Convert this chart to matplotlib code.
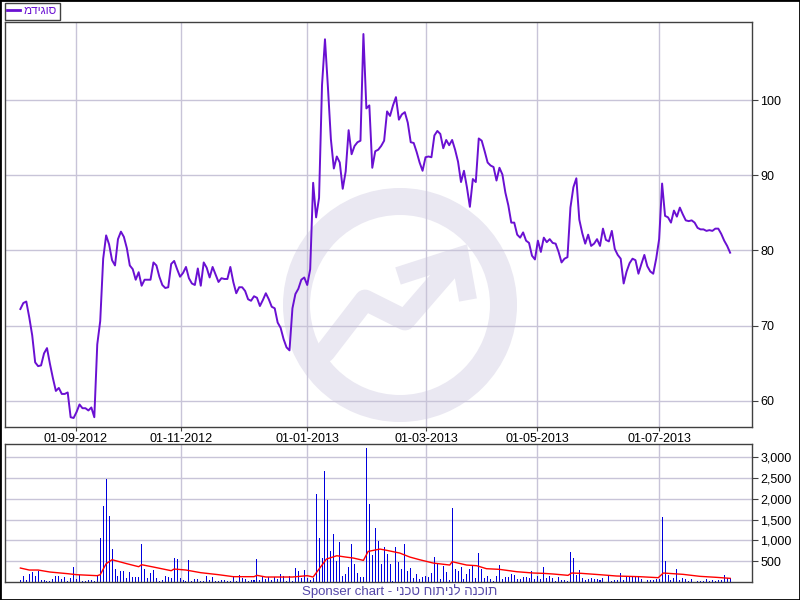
import numpy as np
import matplotlib
matplotlib.use("Agg")
import matplotlib.pyplot as plt
from matplotlib.patches import Rectangle, Wedge
from matplotlib.lines import Line2D
from matplotlib.ticker import FuncFormatter

plt.rcParams['font.family'] = ['Liberation Sans', 'DejaVu Sans']

# daily close, one value per trading day (Aug 2012 - Jul 2013)
price = [72.2, 73.0, 73.2, 71.1, 68.7, 65.1, 64.6, 64.7, 66.3, 67.0, 64.9, 63.0, 61.3, 61.7, 60.9, 60.9, 61.1,
         57.8, 57.7, 58.5, 59.5, 59.0, 59.0, 58.7, 59.1, 57.8, 67.5, 70.6, 78.9, 82.0, 80.8, 78.7, 78.0, 81.5,
         82.5, 81.8, 80.3, 78.0,
         77.5, 76.1, 77.1, 75.3, 76.1, 76.1, 76.1, 78.4, 78.0, 76.5, 75.4, 75.0, 75.1, 78.2, 78.6, 77.5, 76.5,
         77.0, 77.8, 76.3, 75.6, 75.4, 77.6, 75.3, 78.4, 77.7, 76.4, 77.8, 76.8, 75.8, 76.3, 76.2, 76.2, 77.8,
         75.8, 74.3, 75.1, 75.1, 74.6, 73.5, 73.3,
         73.9, 73.7, 72.6, 73.4, 74.3, 73.5, 72.5, 72.3, 70.4, 69.7, 68.2, 67.1, 66.7, 72.3, 74.2, 74.9, 76.1,
         76.4, 75.4, 77.5, 89.0, 84.4, 87.0, 102.0, 108.1, 101.7, 94.8, 90.9, 92.5, 91.7, 88.2, 90.5, 96.0,
         92.8, 93.9, 94.4, 94.6, 108.8, 98.9, 99.3, 91.0,
         93.2, 93.4, 93.9, 94.6, 98.5, 97.9, 99.3, 100.4, 97.4, 98.1, 98.4, 97.0, 94.4, 94.3, 93.1, 91.7, 90.6,
         92.4, 92.5, 92.4, 95.3, 95.9, 95.5, 93.6, 94.7, 94.0, 94.7, 93.4, 91.8, 89.1, 90.6, 88.4, 85.8, 89.5,
         89.1, 94.9, 94.6, 93.2, 91.7, 91.3, 91.1,
         89.3, 91.0, 90.1, 87.7, 86.0, 83.7, 83.7, 82.1, 81.7, 82.4, 81.3, 81.0, 79.3, 78.8, 81.3, 79.8, 81.7,
         81.1, 81.5, 81.0, 80.9, 79.8, 78.4, 78.9, 79.1, 85.7, 88.4, 89.6, 84.1, 82.3, 80.9, 82.1, 80.6, 80.9,
         81.5, 80.6, 82.9, 81.4, 81.2, 82.6, 80.2,
         79.4, 78.9, 75.6, 77.2, 78.3, 78.9, 78.7, 76.9, 78.2, 79.4, 77.9, 77.2, 76.9, 78.9, 81.5, 88.9, 84.6,
         84.4, 83.7, 85.3, 84.5, 85.7, 84.8, 84.0, 83.9, 84.0, 83.7, 83.0, 82.8, 82.8, 82.6, 82.7, 82.6, 82.9,
         82.9, 82.2, 81.3, 80.6, 79.7]

volume = [56, 152, 48, 200, 232, 136, 272, 48, 48, 24, 24, 80, 152, 152, 80, 120, 24, 104, 368, 72,
          168, 24, 24, 48, 48, 24, 144, 1064, 1832, 2480, 1592, 800, 320, 136, 272, 272, 104, 248, 128, 128,
          128, 920, 320, 88, 224, 288, 104, 24, 48, 152, 112, 88, 584, 560, 104, 48, 24, 536, 24, 72,
          72, 24, 24, 152, 48, 120, 24, 24, 48, 48, 24, 24, 136, 24, 176, 96, 72, 24, 48, 48,
          560, 48, 152, 72, 120, 48, 120, 72, 200, 152, 24, 144, 24, 344, 272, 88, 296, 88, 48, 104,
          2120, 1064, 584, 2672, 1976, 752, 1152, 512, 968, 152, 200, 368, 920, 440, 224, 128, 128, 3224, 1880, 656,
          1304, 992, 440, 848, 680, 440, 24, 848, 488,
          320, 920, 272, 344, 96, 200, 80, 128, 152, 128, 224, 608, 440, 80, 392, 248, 48, 1784, 320, 272,
          368, 80, 200, 320, 416, 96, 704, 320, 104, 152, 72, 24, 152, 416, 80, 128, 112, 200, 176, 72,
          72, 128, 128, 104, 272, 80, 152, 72, 368, 104, 144, 96, 24, 128, 48, 48, 24, 728, 584, 176,
          296, 104, 56, 72, 104, 72, 72, 56, 96, 0, 144, 24, 48, 48, 224, 48, 152, 120, 120, 120,
          120, 72, 0, 48, 48, 48, 72, 72, 1568, 512, 176, 48, 104, 320, 48, 104, 80, 24, 72, 0,
          24, 24, 24, 72, 24, 48, 24, 48, 48, 168, 104, 104]

# red volume average line, read at its bends (day index, value)
avg_idx = [0, 3, 6, 10, 16, 19, 26, 27, 29, 31, 36, 40, 41, 45, 51, 52, 56, 61, 67, 72, 79, 80, 83, 92,
           97, 99, 101, 103.5, 107, 110, 112.6, 116, 117.6, 121.6, 124, 128.3, 131.7, 135, 139.6, 145.2,
           146, 150.9, 154.3, 157.6, 162, 167.8, 173.4, 176.8, 180.2, 185.2, 186.4, 189.7, 195.9, 201.6,
           209.4, 215.7, 217.4, 224.1, 229.8, 235.4, 240]
avg_val = [336, 288, 288, 240, 200, 176, 152, 176, 440, 536, 440, 368, 416, 360, 272, 312, 288, 224, 176,
           128, 128, 160, 120, 120, 152, 120, 312, 552, 632, 600, 576, 520, 736, 792, 760, 696, 600, 536,
           456, 408, 488, 408, 392, 320, 304, 248, 216, 208, 192, 160, 216, 208, 176, 144, 128, 104, 216,
           184, 136, 112, 88]

date_labels = ["01-09-2012", "01-11-2012", "01-01-2013", "01-03-2013", "01-05-2013", "01-07-2013"]
date_idx = [18.7, 54.2, 97.0, 137.3, 174.8, 216.0]

series_name = "מדיגוס"
# the reference prints the Hebrew part of the footer left-to-right, so it is stored reversed here
# (the renderer flips Hebrew runs back)
footer = "Sponser chart - " + "תוכנה לניתוח טכני"[::-1]

purple = '#6a10d2'
grid_c = '#c8c4d8'
spine_c = '#404040'

fig = plt.figure(figsize=(8, 6), dpi=100)

# watermark logo behind the price panel
wm = fig.add_axes([0, 0, 1, 1], zorder=0)
wm.set_xlim(0, 800)
wm.set_ylim(600, 0)
wm.axis('off')
wm_c = '#eae8f2'
wm.add_patch(Wedge((400, 305), 117, 0, 360, width=27, color=wm_c, lw=0))
wm.plot([325, 365, 405, 450], [352, 300, 320, 268], color=wm_c, lw=15, solid_capstyle='round',
        solid_joinstyle='round')
wm.plot([398, 460, 468], [276, 256, 300], color=wm_c, lw=13, solid_capstyle='butt', solid_joinstyle='miter')

ax = fig.add_axes([5/800, 1-427/600, 747/800, 405/600], zorder=1)
axv = fig.add_axes([5/800, 1-582/600, 747/800, 138/600], zorder=1)
ax.patch.set_alpha(0)

x = np.arange(len(price))
ax.plot(x, price, color=purple, lw=1.4)
ax.set_xlim(-5.2, 247.4)
ax.set_ylim(56.5, 110.4)
ax.yaxis.tick_right()
ax.set_yticks([60, 70, 80, 90, 100])
ax.set_xticks(date_idx)
ax.set_xticklabels(date_labels)
ax.tick_params(axis='y', direction='out', length=4, color=spine_c, labelsize=9, pad=2)
ax.tick_params(axis='x', direction='out', length=3, color=spine_c, labelsize=9, pad=1)
ax.grid(True, color=grid_c, lw=1)
ax.set_axisbelow(True)

xv = np.arange(len(volume))
axv.bar(xv, volume, width=0.34, color='#0000dd', antialiased=False, zorder=2)
axv.plot(avg_idx, avg_val, color='#ff0000', lw=1, zorder=3)
axv.set_xlim(-5.2, 247.4)
axv.set_ylim(0, 3320)
axv.yaxis.tick_right()
axv.set_yticks([500, 1000, 1500, 2000, 2500, 3000])
axv.yaxis.set_major_formatter(FuncFormatter(lambda v, p: f"{int(v):,}"))
axv.set_xticks(date_idx)
axv.set_xticklabels([])
axv.tick_params(axis='x', length=0)
axv.tick_params(axis='y', direction='out', length=4, color=spine_c, labelsize=9, pad=2)
axv.grid(True, color=grid_c, lw=1)
axv.set_axisbelow(True)

for a in (ax, axv):
    for s in a.spines.values():
        s.set_color(spine_c)
        s.set_linewidth(1)

leg = fig.legend(handles=[Line2D([], [], color=purple, lw=2)], labels=[series_name],
                 loc='upper left', bbox_to_anchor=(5/800, 1-3/600), frameon=True, fancybox=False,
                 edgecolor=spine_c, framealpha=1, fontsize=8.5, handlelength=1.1, handletextpad=0.3,
                 borderpad=0.2, borderaxespad=0, labelcolor=purple)
leg.get_frame().set_linewidth(1)

fig.text(0.5, 1-591/600, footer, ha='center', va='center', color='#5446a8', fontsize=9.5)

fig.add_artist(Rectangle((0, 0), 1, 1, transform=fig.transFigure, fill=False, ec='black', lw=2))

fig.savefig('out.png', dpi=100, facecolor='white')
